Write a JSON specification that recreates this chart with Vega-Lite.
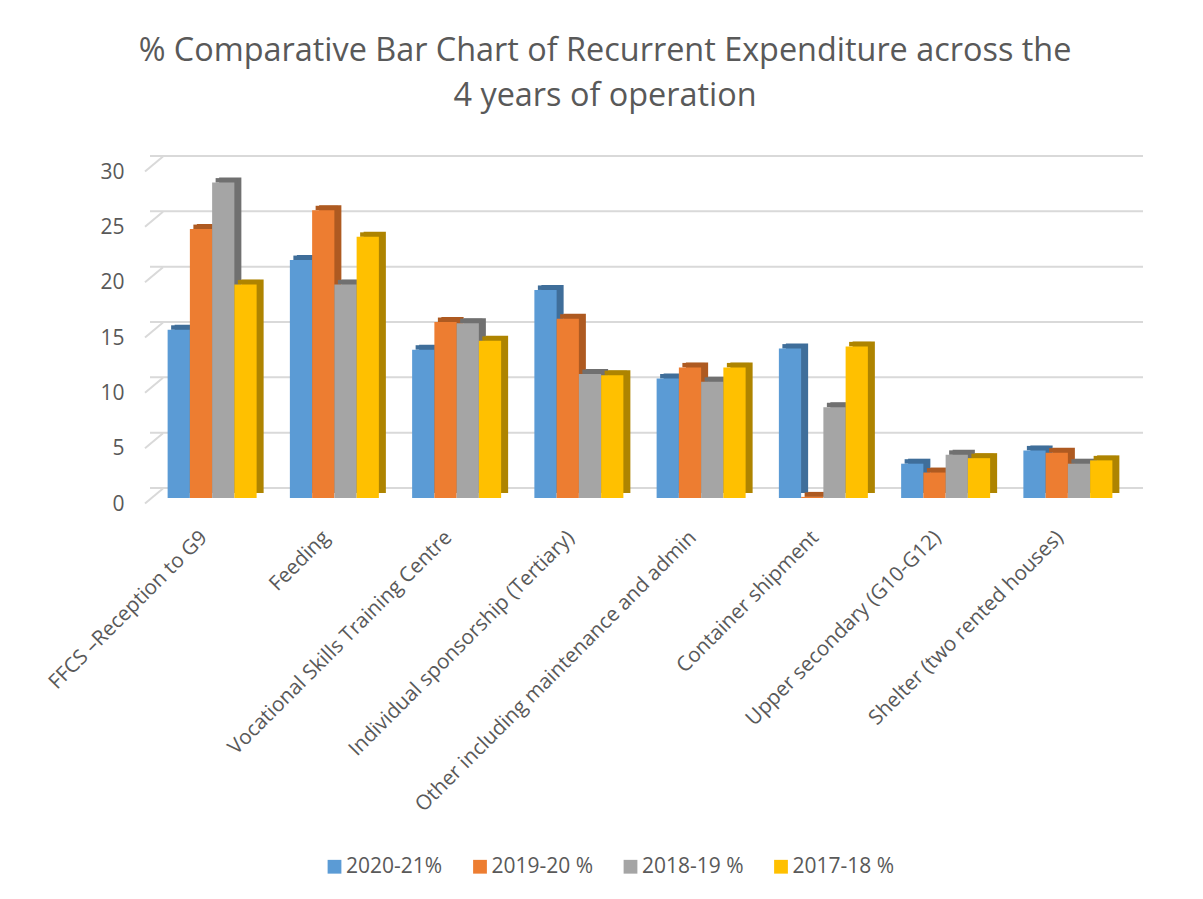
{
"$schema":"https://vega.github.io/schema/vega-lite/v6.json",
"width":978,"height":332,
"autosize":"none",
"padding":{"left":151,"top":166,"right":74,"bottom":401},
"background":"white",
"config":{"font":"Open Sans","view":{"stroke":null}},
"title":{"text":["% Comparative Bar Chart of Recurrent Expenditure across the","4 years of operation"],"fontSize":32.4,"fontWeight":"normal","color":"#595959","lineHeight":45,"dx":-35,"offset":40,"anchor":"middle","frame":"group"},
"datasets":{
"bars":[
{"cat":"FFCS –Reception to G9","series":"2020-21%","pct":15.2},
{"cat":"FFCS –Reception to G9","series":"2019-20 %","pct":24.3},
{"cat":"FFCS –Reception to G9","series":"2018-19 %","pct":28.5},
{"cat":"FFCS –Reception to G9","series":"2017-18 %","pct":19.3},
{"cat":"Feeding","series":"2020-21%","pct":21.5},
{"cat":"Feeding","series":"2019-20 %","pct":26.0},
{"cat":"Feeding","series":"2018-19 %","pct":19.3},
{"cat":"Feeding","series":"2017-18 %","pct":23.6},
{"cat":"Vocational Skills Training Centre","series":"2020-21%","pct":13.4},
{"cat":"Vocational Skills Training Centre","series":"2019-20 %","pct":15.9},
{"cat":"Vocational Skills Training Centre","series":"2018-19 %","pct":15.8},
{"cat":"Vocational Skills Training Centre","series":"2017-18 %","pct":14.2},
{"cat":"Individual sponsorship (Tertiary)","series":"2020-21%","pct":18.8},
{"cat":"Individual sponsorship (Tertiary)","series":"2019-20 %","pct":16.2},
{"cat":"Individual sponsorship (Tertiary)","series":"2018-19 %","pct":11.2},
{"cat":"Individual sponsorship (Tertiary)","series":"2017-18 %","pct":11.1},
{"cat":"Other including maintenance and admin","series":"2020-21%","pct":10.8},
{"cat":"Other including maintenance and admin","series":"2019-20 %","pct":11.8},
{"cat":"Other including maintenance and admin","series":"2018-19 %","pct":10.5},
{"cat":"Other including maintenance and admin","series":"2017-18 %","pct":11.8},
{"cat":"Container shipment","series":"2020-21%","pct":13.5},
{"cat":"Container shipment","series":"2019-20 %","pct":0.1},
{"cat":"Container shipment","series":"2018-19 %","pct":8.2},
{"cat":"Container shipment","series":"2017-18 %","pct":13.7},
{"cat":"Upper secondary (G10-G12)","series":"2020-21%","pct":3.1},
{"cat":"Upper secondary (G10-G12)","series":"2019-20 %","pct":2.3},
{"cat":"Upper secondary (G10-G12)","series":"2018-19 %","pct":3.9},
{"cat":"Upper secondary (G10-G12)","series":"2017-18 %","pct":3.6},
{"cat":"Shelter (two rented houses)","series":"2020-21%","pct":4.3},
{"cat":"Shelter (two rented houses)","series":"2019-20 %","pct":4.1},
{"cat":"Shelter (two rented houses)","series":"2018-19 %","pct":3.1},
{"cat":"Shelter (two rented houses)","series":"2017-18 %","pct":3.4}
],
"grid":[{"pct":0},{"pct":5},{"pct":10},{"pct":15},{"pct":20},{"pct":25},{"pct":30}]
},
"layer":[
{"data":{"name":"grid"},
 "mark":{"type":"rule","color":"#d9d9d9","strokeWidth":2,"strokeCap":"square","xOffset":13,"yOffset":-10},
 "encoding":{"y":{"field":"pct","type":"quantitative","scale":{"domain":[0,30],"nice":false},
   "axis":{"title":null,"values":[0,5,10,15,20,25,30],"domain":false,"ticks":false,"grid":false,"labelFontSize":21,"labelColor":"#595959","labelPadding":27,"labelOffset":6}}}},
{"data":{"name":"grid"},
 "mark":{"type":"point","shape":"M-9,7.5L9,-7.5","size":4,"filled":false,"stroke":"#d9d9d9","strokeWidth":2,"opacity":1,"xOffset":3,"yOffset":-2},
 "encoding":{"y":{"field":"pct","type":"quantitative"},"x":{"value":0}}},
{"data":{"name":"bars"},
 "mark":{"type":"bar","yOffset":-5,"y2Offset":-5},
 "encoding":{
  "x":{"field":"cat","type":"nominal","sort":null,"scale":{"range":[7,985],"paddingInner":0.272,"paddingOuter":0.136},"axis":null},
  "xOffset":{"field":"series","type":"nominal","sort":null,"scale":{"paddingInner":0,"paddingOuter":0}},
  "y":{"field":"pct","type":"quantitative"},
  "color":{"field":"series","type":"nominal","sort":null,"legend":null,"scale":{"domain":["2020-21%","2019-20 %","2018-19 %","2017-18 %"],"range":["#3F6E9A","#AE5A21","#707070","#AE8400"]}}
 }},
{"data":{"name":"bars"},
 "mark":{"type":"bar","yOffset":-4.5},
 "encoding":{
  "x":{"field":"cat","type":"nominal","sort":null,"scale":{"range":[3.5,981.5],"paddingInner":0.272,"paddingOuter":0.136},"axis":null},
  "xOffset":{"field":"series","type":"nominal","sort":null,"scale":{"paddingInner":0,"paddingOuter":0}},
  "y":{"field":"pct","type":"quantitative"},
  "y2":{"field":"pct"},
  "color":{"field":"series","type":"nominal","sort":null,"legend":null,"scale":{"domain":["2020-21%","2019-20 %","2018-19 %","2017-18 %"],"range":["#3F6E9A","#AE5A21","#707070","#AE8400"]}}
 }},
{"data":{"name":"bars"},
 "mark":{"type":"bar"},
 "encoding":{
  "x":{"field":"cat","type":"nominal","sort":null,"scale":{"paddingInner":0.272,"paddingOuter":0.136},"axis":{"title":null,"labelAngle":-45,"labelFontSize":20.6,"labelColor":"#595959","domain":false,"ticks":false,"labelPadding":29,"labelOffset":-15,"labelLimit":500}},
  "xOffset":{"field":"series","type":"nominal","sort":null,"scale":{"paddingInner":0,"paddingOuter":0}},
  "y":{"field":"pct","type":"quantitative"},
  "color":{"field":"series","type":"nominal","sort":null,"scale":{"domain":["2020-21%","2019-20 %","2018-19 %","2017-18 %"],"range":["#5B9BD5","#ED7D31","#A5A5A5","#FFC000"]},
   "legend":{"title":null,"orient":"none","legendX":173,"legendY":690,"direction":"horizontal","columns":4,"symbolType":"square","symbolSize":190,"symbolStrokeWidth":0,"labelFontSize":21,"labelColor":"#595959","columnPadding":26.5,"labelOffset":1}}
 }}
],
"resolve":{"scale":{"color":"independent","x":"independent","xOffset":"independent"}}
}
